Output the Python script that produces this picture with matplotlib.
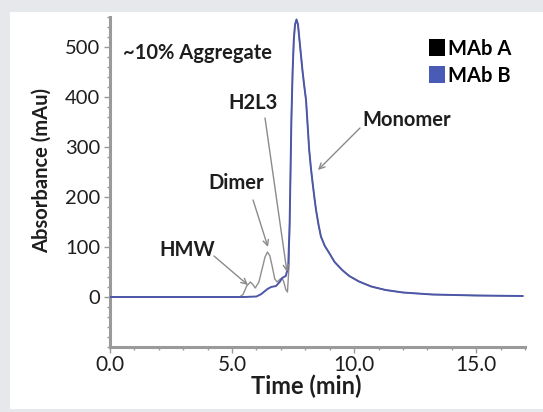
import matplotlib
matplotlib.use("Agg")
import matplotlib.pyplot as plt
from matplotlib.patches import Patch, Rectangle
from matplotlib.ticker import MultipleLocator, FixedLocator

plt.rcParams["font.family"] = ["Lato", "DejaVu Sans"]

# ---- data ----
# MAb A (grey trace, with aggregate peaks)
time_a = [0.0, 2.0, 4.0, 5.3, 5.45, 5.6, 5.75, 5.85, 5.95, 6.1, 6.25, 6.35,
          6.45, 6.55, 6.65, 6.75, 6.85, 6.95, 7.05, 7.12, 7.2, 7.27, 7.33,
          7.38, 7.43, 7.48, 7.53, 7.58, 7.64, 7.7, 7.78, 7.88, 7.95, 8.03,
          8.1, 8.16, 8.23, 8.3, 8.37, 8.44, 8.54, 8.64, 8.8, 8.98, 9.2,
          9.51, 9.8, 10.2, 10.7, 11.29, 12.0, 13.2, 15.0, 16.9]
abs_a = [0, 0, 0, 0, 5, 22, 30, 25, 18, 30, 60, 80,
         90, 82, 60, 36, 30, 35, 38, 30, 15, 10, 60,
         200, 354, 450, 515, 545, 555, 545, 505, 455, 425, 394,
         340, 294, 258, 228, 200, 174, 145, 121, 102, 88, 70,
         54, 42, 31, 21, 14, 9, 5, 3, 2]

# MAb B (blue trace)
time_b = [0.0, 2.0, 4.0, 5.5, 6.0, 6.2, 6.45, 6.6, 6.8, 6.95, 7.05, 7.2,
          7.3, 7.36, 7.43, 7.48, 7.53, 7.58, 7.64, 7.7, 7.78, 7.88, 7.95,
          8.03, 8.1, 8.16, 8.23, 8.3, 8.37, 8.44, 8.54, 8.64, 8.8, 8.98,
          9.2, 9.51, 9.8, 10.2, 10.7, 11.29, 12.0, 13.2, 15.0, 16.9]
abs_b = [0, 0, 0, 0, 1, 6, 16, 20, 22, 30, 38, 42,
         60, 150, 354, 450, 515, 545, 555, 545, 505, 455, 425,
         394, 340, 294, 258, 228, 200, 174, 145, 121, 102, 88,
         70, 54, 42, 31, 21, 14, 9, 5, 3, 2]

series_names = ["MAb A", "MAb B"]
x_ticks = [0, 5, 10, 15]
x_tick_labels = ["0.0", "5.0", "10.0", "15.0"]
y_ticks = [0, 100, 200, 300, 400, 500]

# annotation: label, text position, arrow start, arrow tip
labels = ["HMW", "Dimer", "H2L3", "Monomer"]
label_pos = [(3.15, 94), (5.16, 228), (5.86, 388), (12.17, 354)]
arrow_from = [(4.26, 82), (5.86, 194), (6.35, 358), (10.24, 338)]
arrow_to = [(5.65, 24), (6.47, 100), (7.25, 50), (8.52, 254)]

GREY_LINE = "#8e8e8e"
BLUE_LINE = "#4c57a8"
BLUE_PATCH = "#4a5bb5"
AXIS_GREY = "#9a9a9a"
TEXT = "#1e1e1e"
BG = "#e6e8eb"
ANN_SIZE = 14.5

fig = plt.figure(figsize=(5.43, 4.12), dpi=100, facecolor=BG)
# white panel behind the chart
fig.patches.append(Rectangle((10 / 543, 3 / 412), 533 / 543, 397 / 412,
                             transform=fig.transFigure, facecolor="white",
                             edgecolor="none", zorder=-5))

ax = fig.add_axes([110 / 543, 65 / 412, 415 / 543, 330 / 412])
ax.set_facecolor("none")

ax.plot(time_a, abs_a, color=GREY_LINE, lw=1.0, zorder=2)
ax.plot(time_b, abs_b, color=BLUE_LINE, lw=1.4, zorder=3)

ax.set_xlim(0, 17)
ax.set_ylim(-100, 560)

for side in ("top", "right"):
    ax.spines[side].set_visible(False)
for side in ("left", "bottom"):
    ax.spines[side].set_color(AXIS_GREY)
    ax.spines[side].set_linewidth(2.2)

ax.xaxis.set_major_locator(FixedLocator(x_ticks))
ax.set_xticklabels(x_tick_labels)
ax.xaxis.set_minor_locator(MultipleLocator(1))
ax.yaxis.set_major_locator(FixedLocator(y_ticks))
ax.yaxis.set_minor_locator(MultipleLocator(20))
ax.tick_params(which="both", direction="out", color=AXIS_GREY, width=1.0)
ax.tick_params(which="major", length=4, labelsize=15, labelcolor=TEXT, pad=2)
ax.tick_params(axis="y", which="major", labelsize=14.5, pad=3)
ax.tick_params(which="minor", length=2.5)

ax.set_xlabel("Time (min)", fontsize=17, fontweight="bold", color=TEXT, labelpad=0)
ax.xaxis.set_label_coords(0.472, -0.082)
ax.set_ylabel("Absorbance (mAu)", fontsize=14.5, fontweight="bold", color=TEXT)
ax.yaxis.set_label_coords(-0.14, 0.536)

ax.text(3.6, 488, "~10% Aggregate", fontsize=ANN_SIZE, fontweight="bold", color=TEXT,
        ha="center", va="center")
for lab, pos, a0, a1 in zip(labels, label_pos, arrow_from, arrow_to):
    ax.text(pos[0], pos[1], lab, fontsize=ANN_SIZE, fontweight="bold", color=TEXT,
            ha="center", va="center")
    ax.annotate("", xy=a1, xytext=a0,
                arrowprops=dict(arrowstyle="->", color="#8a8a8a", lw=1.0,
                                shrinkA=0, shrinkB=0))

handles = [Patch(facecolor="black", edgecolor="none"),
           Patch(facecolor=BLUE_PATCH, edgecolor="none")]
ax.legend(handles, series_names, loc="upper left", bbox_to_anchor=(0.745, 0.965),
          frameon=False, handlelength=0.8, handleheight=0.95, handletextpad=0.15,
          labelspacing=0.35, borderpad=0,
          prop={"family": ["Lato", "DejaVu Sans"], "weight": "bold", "size": 14.5})

fig.savefig("out.png", dpi=100, facecolor=BG)
